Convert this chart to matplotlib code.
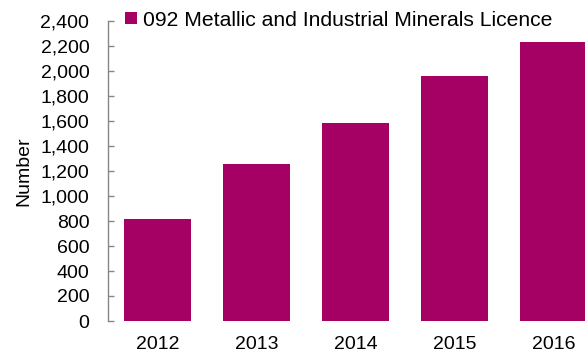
import matplotlib
matplotlib.use('Agg')
import matplotlib.pyplot as plt
import numpy as np

# data
years = ['2012', '2013', '2014', '2015', '2016']
counts = [820, 1255, 1585, 1960, 2235]
series_name = '092 Metallic and Industrial Minerals Licence'
yticks = np.arange(0, 2401, 200)

plt.rcParams['font.family'] = ['Liberation Sans', 'DejaVu Sans']

fig = plt.figure(figsize=(5.85, 3.56), dpi=100)
ax = fig.add_axes([108/585, 1 - 321/356, (603 - 108)/585, 300/356])

x = np.arange(len(years))
ax.bar(x, counts, width=0.667, color='#A50064', label=series_name)

ax.set_xlim(-0.5, len(years) - 0.5)
ax.set_ylim(0, 2400)
ax.set_xticks(x)
ax.set_xticklabels(years)
ax.set_yticks(yticks)
ax.set_yticklabels([f'{v:,}' for v in yticks])
ax.tick_params(axis='x', length=0, pad=11, labelsize=14)
ax.tick_params(axis='y', direction='in', length=4.5, width=1, color='#868686',
               pad=13.5, labelsize=14)

for s in ['top', 'right', 'bottom']:
    ax.spines[s].set_visible(False)
ax.spines['left'].set_color('#868686')
ax.spines['left'].set_linewidth(1)

ax.set_ylabel('Number', fontsize=14, labelpad=6)

ax.legend(loc='upper left', bbox_to_anchor=(0.035, 1.035), frameon=False,
          fontsize=15.25, handlelength=0.55, handleheight=0.55, handletextpad=0.3,
          borderaxespad=0, borderpad=0)

fig.savefig('out.png', dpi=100)
